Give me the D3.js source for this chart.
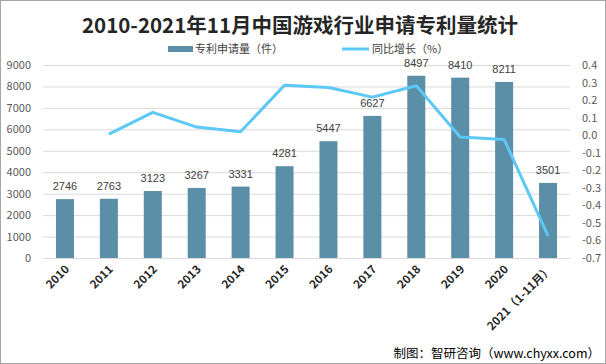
<!DOCTYPE html>
<html><head><meta charset="utf-8">
<script src="https://cdn.jsdelivr.net/npm/d3@7"></script>
<style>body{margin:0;background:#fff}svg{display:block}</style>
</head><body><svg id="c" width="606" height="364"></svg>
<script>
const categories=["2010","2011","2012","2013","2014","2015","2016","2017","2018","2019","2020","2021（1-11月）"];
const patents=[2746,2763,3123,3267,3331,4281,5447,6627,8497,8410,8211,3501];
const growth=[null,0.006,0.130,0.046,0.020,0.285,0.272,0.217,0.282,-0.010,-0.024,-0.574];
const leftTicks=[0,1000,2000,3000,4000,5000,6000,7000,8000,9000];
const rightTicks=[0.4,0.3,0.2,0.1,0.0,-0.1,-0.2,-0.3,-0.4,-0.5,-0.6,-0.7];

const svg=d3.select("#c");
const font="'Noto Sans CJK SC','Microsoft YaHei',sans-serif";
const numFont="'Liberation Sans',Arial,sans-serif";
svg.append("rect").attr("x",0.5).attr("y",0.5).attr("width",605).attr("height",363).attr("fill","#fff").attr("stroke","#a6a6a6");

const L=43,R=570,T=65,B=258;
const x=d3.scaleBand().domain(categories).range([L,R]).paddingInner(0.59).paddingOuter(0.295);
const y=d3.scaleLinear().domain([0,9000]).range([B,T]);
const y2=d3.scaleLinear().domain([-0.7,0.4]).range([B,T]);

// gridlines
svg.append("g").selectAll("line").data(leftTicks).join("line")
 .attr("x1",L).attr("x2",R).attr("y1",d=>y(d)+0.5).attr("y2",d=>y(d)+0.5)
 .attr("stroke","#d9d9d9").attr("stroke-width",1);

// left axis
const ax=d3.axisLeft(y).tickValues(leftTicks).tickSize(0).tickPadding(12).tickFormat(d3.format("d"));
const gL=svg.append("g").attr("transform",`translate(${L},0)`).call(ax);
gL.select(".domain").remove();
gL.selectAll("text").attr("fill","#595959").style("font-family",font).style("font-size","11px");

const ar=d3.axisRight(y2).tickValues(rightTicks).tickSize(0).tickPadding(12);
const gR=svg.append("g").attr("transform",`translate(${R},0)`).call(ar);
gR.select(".domain").remove();
gR.selectAll("text").attr("fill","#595959").style("font-family",font).style("font-size","11px")
 .text(d=>d3.format(".1f")(d).replace("−","-"));

// bars
svg.append("g").selectAll("rect").data(patents).join("rect")
 .attr("x",(d,i)=>x(categories[i])).attr("width",x.bandwidth())
 .attr("y",d=>y(d)).attr("height",d=>B-y(d)).attr("fill","#5b8fa8");

svg.append("g").selectAll("text").data(patents).join("text")
 .attr("x",(d,i)=>x(categories[i])+x.bandwidth()/2).attr("y",d=>y(d)-9)
 .attr("text-anchor","middle").attr("fill","#404040")
 .style("font-family",numFont).style("font-size","11px").text(d=>d);

// line
const pts=growth.map((g,i)=>({c:categories[i],g})).filter(d=>d.g!==null);
svg.append("path").datum(pts).attr("fill","none").attr("stroke","#5bc8f5").attr("stroke-width",3)
 .attr("stroke-linejoin","round")
 .attr("d",d3.line().x(d=>x(d.c)+x.bandwidth()/2).y(d=>y2(d.g)));

// x labels
svg.append("g").selectAll("text").data(categories).join("text")
 .attr("transform",d=>`translate(${x(d)+x.bandwidth()/2+5},${B+12}) rotate(-45)`)
 .attr("text-anchor","end").attr("fill","#262626").attr("font-weight","bold")
 .style("font-family",font).style("font-size","11.5px").text(d=>d);

// title
svg.append("text").attr("x",300).attr("y",33).attr("text-anchor","middle")
 .attr("font-weight","bold").attr("fill","#262626")
 .style("font-family",font).style("font-size","20.5px").text("2010-2021年11月中国游戏行业申请专利量统计");

// legend
svg.append("rect").attr("x",168).attr("y",46).attr("width",25).attr("height",6).attr("fill","#5b8fa8");
svg.append("text").attr("x",195).attr("y",53).attr("fill","#404040").style("font-family",font).style("font-size","11px").text("专利申请量（件）");
svg.append("line").attr("x1",342).attr("x2",369).attr("y1",49).attr("y2",49).attr("stroke","#5bc8f5").attr("stroke-width",3);
svg.append("text").attr("x",372).attr("y",53).attr("fill","#404040").style("font-family",font).style("font-size","11px").text("同比增长（%）");

// source
svg.append("text").attr("x",600).attr("y",358).attr("text-anchor","end").attr("fill","#000")
 .style("font-family",font).style("font-size","12.5px").text("制图：智研咨询（www.chyxx.com）");
</script></body></html>
